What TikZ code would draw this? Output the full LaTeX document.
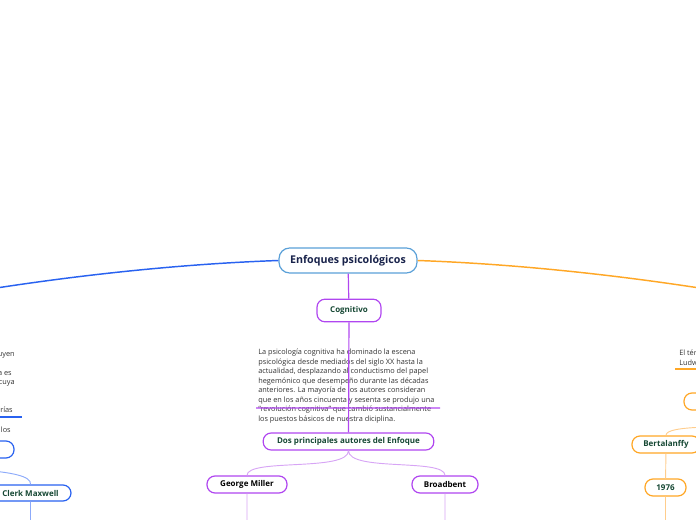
\documentclass[tikz,border=0pt]{standalone}
\usepackage{fontspec}
\setmainfont{Open Sans}
\usepackage{xcolor}
\definecolor{mapblue}{RGB}{41,98,240}
\definecolor{centblue}{RGB}{90,160,216}
\definecolor{lightblue}{RGB}{140,170,250}
\definecolor{maporange}{RGB}{255,167,38}
\definecolor{lightorange}{RGB}{255,205,140}
\definecolor{mappurple}{RGB}{176,70,240}
\definecolor{lightpurple}{RGB}{215,165,245}
\definecolor{darkgreen}{RGB}{22,72,52}
\definecolor{navy}{RGB}{25,35,75}

\begin{document}
\begin{tikzpicture}[x=0.75pt,y=-0.75pt]
	\tikzstyle{every node} = [inner sep=0pt]
	\tikzstyle{topic} = [rectangle, rounded corners=6pt, draw, fill=white, line width=0.9pt, font=\fontsize{6}{7}\selectfont\bfseries, text=darkgreen, minimum height=12.75pt]
	\tikzstyle{note} = [align=left, font=\fontsize{5.5}{7.1}\selectfont, text=black!80]
	\useasboundingbox (0,0) rectangle (696,520);

	\node[topic, draw=centblue, text=navy, font=\fontsize{8}{9}\selectfont\bfseries, minimum width=103.5pt, minimum height=18.75pt, rounded corners=8pt] (central) at (348,260.5) {Enfoques psicológicos};
	\node[topic, draw=mappurple, minimum width=48pt, minimum height=17pt] (cognitivo) at (349,310.5) {Cognitivo};
	\node[note, anchor=north west] (desc) at (258,349) {La psicología cognitiva ha dominado la escena\\psicológica desde mediados del siglo XX hasta la\\actualidad, desplazando al conductismo del papel\\hegemónico que desempeño durante las décadas\\anteriores. La mayoría de los autores consideran\\que en los años cincuenta y sesenta se produjo una\\“revolución cognitiva” que cambió sustancialmente\\los puestos básicos de nuestra diciplina.};
	\node[topic, draw=mappurple, minimum width=128pt] (autores) at (348.5,441.5) {Dos principales autores del Enfoque};
	\node[topic, draw=mappurple, text=black, minimum width=60pt] (miller) at (247,484.5) {George Miller};
	\node[topic, draw=mappurple, text=black, minimum width=49.5pt] (broadbent) at (445,484.5) {Broadbent};

	%left branch, cut by the frame
	\node[note, anchor=base east] (l1) at (15,356) {uyen};
	\node[note, anchor=base east] (l3) at (12,375) {a es};
	\node[note, anchor=base east] (l4) at (15,384.5) {cuya};
	\node[note, anchor=base east] (l7) at (13,412.5) {rías};
	\node[note, anchor=base east] (l9) at (11,432) {los};
	\node[topic, draw=mapblue, minimum width=45pt] (leftnode) at (-16,449.5) {};
	\node[topic, draw=mapblue, minimum width=60.75pt, minimum height=12pt] (maxwell) at (30.5,493) {Clerk Maxwell};

	%right branch, cut by the frame
	\node[note, anchor=base west] (r1) at (679,355) {El tér};
	\node[note, anchor=base west] (r2) at (679,365) {Ludw};
	\node[topic, draw=maporange, minimum width=30pt] (rightnode) at (704,401.5) {};
	\node[topic, draw=maporange, minimum width=51pt] (bertalanffy) at (666,444.5) {Bertalanffy};
	\node[topic, draw=maporange, minimum width=30.75pt] (year) at (665.5,487.5) {1976};

	\coordinate (leftend) at (-10,289);
	\coordinate (rightend) at (706,289);
	\coordinate (maxwellin) at (-20,470);
	\coordinate (bertin) at (706,427);

	\draw[mapblue, line width=1.1pt] (central.west) .. controls (180,264) and (80,275) .. (leftend);
	\draw[maporange, line width=1.1pt] (central.east) .. controls (516,264) and (616,275) .. (rightend);
	\draw[mappurple, line width=0.9pt]
	(central) -- (cognitivo)
	(cognitivo) -- (autores)
	(256,408) -- (440,408)
	;
	\draw[lightpurple, line width=0.7pt]
	(autores.south) .. controls (348.5,472) and (247,458) .. (miller.north)
	(autores.south) .. controls (348.5,472) and (445,458) .. (broadbent.north)
	(miller.south) -- ++(0,40)
	(broadbent.south) -- ++(0,40)
	;
	\draw[mapblue, line width=0.9pt] (0,417) -- (22,417);
	\draw[lightblue, line width=0.7pt]
	(maxwellin) .. controls (10,472) and (32,476) .. (maxwell.north)
	(maxwell.south) -- ++(0,40)
	;
	\draw[maporange, line width=0.9pt] (675,369) -- (696,369);
	\draw[lightorange, line width=0.7pt]
	(bertin) .. controls (680,428) and (666,430) .. (bertalanffy.north)
	(bertalanffy) -- (year)
	(year.south) -- ++(0,40)
	;
\end{tikzpicture}
\end{document}
